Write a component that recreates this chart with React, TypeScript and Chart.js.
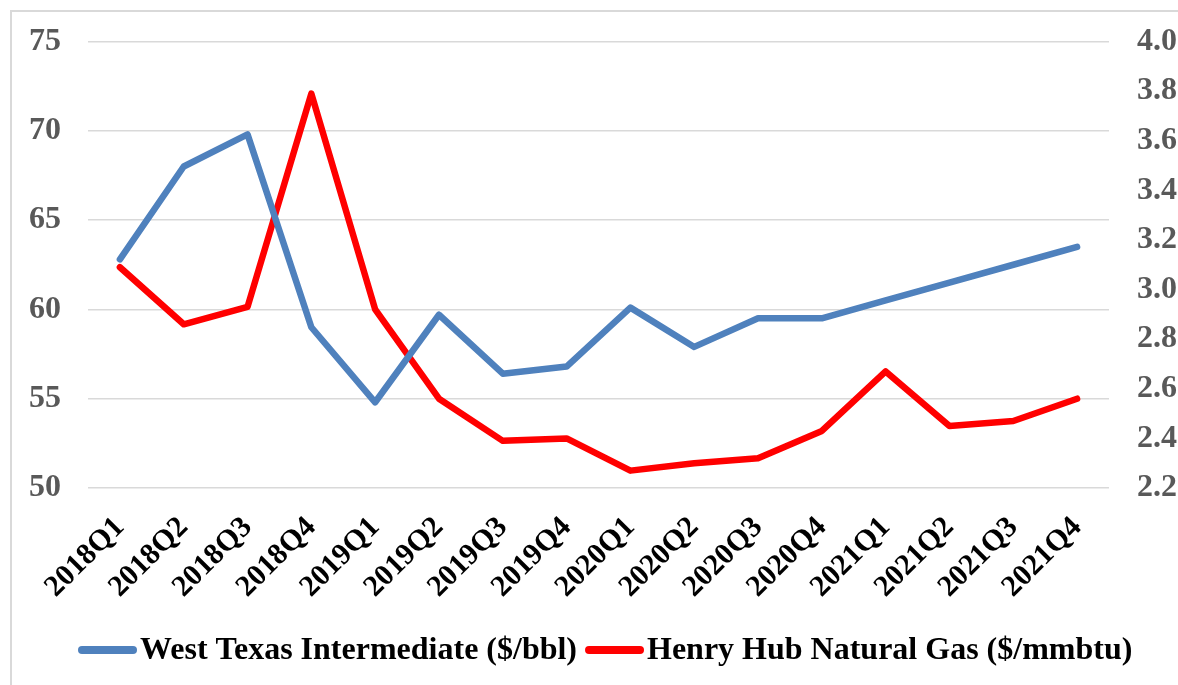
import React, { useEffect, useRef } from "react";
import { Chart, registerables } from "chart.js";

Chart.register(...registerables);

const categories = [
  "2018Q1", "2018Q2", "2018Q3", "2018Q4",
  "2019Q1", "2019Q2", "2019Q3", "2019Q4",
  "2020Q1", "2020Q2", "2020Q3", "2020Q4",
  "2021Q1", "2021Q2", "2021Q3", "2021Q4",
];
const wtiLabel = "West Texas Intermediate ($/bbl)";
const henryLabel = "Henry Hub Natural Gas ($/mmbtu)";
const wti = [62.8, 68.0, 69.8, 59.0, 54.8, 59.7, 56.4, 56.8, 60.1, 57.9, 59.5, 59.5, 60.5, 61.5, 62.5, 63.5];
const henryHub = [3.09, 2.86, 2.93, 3.79, 2.92, 2.56, 2.39, 2.40, 2.27, 2.30, 2.32, 2.43, 2.67, 2.45, 2.47, 2.56];
const leftMin = 50;
const leftMax = 75;
const leftStep = 5;
const rightMin = 2.2;
const rightMax = 4.0;
const rightStep = 0.2;

const FONT = "'Liberation Serif', 'Times New Roman', serif";

const bottomLegend = {
  id: "bottomLegend",
  afterDraw(chart: any) {
    const ctx = chart.ctx;
    const y = 650;
    const sample = 59;
    const lw = 8;
    let x = 78;
    ctx.save();
    ctx.font = `bold 32px ${FONT}`;
    ctx.textBaseline = "middle";
    ctx.textAlign = "left";
    chart.data.datasets.forEach((ds: any) => {
      ctx.strokeStyle = ds.borderColor;
      ctx.lineWidth = lw;
      ctx.lineCap = "round";
      ctx.beginPath();
      ctx.moveTo(x + lw / 2, y);
      ctx.lineTo(x + sample - lw / 2, y);
      ctx.stroke();
      x += sample + 3;
      ctx.fillStyle = "#000000";
      ctx.fillText(ds.label, x, y + 1);
      x += ctx.measureText(ds.label).width + 8;
    });
    ctx.restore();
  },
};

export default function App() {
  const ref = useRef<HTMLCanvasElement | null>(null);

  useEffect(() => {
    document.body.style.margin = "0";
    const canvas = ref.current;
    if (!canvas) return;
    const chart = new Chart(canvas, {
      type: "line",
      data: {
        labels: categories,
        datasets: [
          {
            label: wtiLabel,
            data: wti,
            borderColor: "#4F81BD",
            backgroundColor: "#4F81BD",
            borderWidth: 6.5,
            pointRadius: 0,
            borderJoinStyle: "round",
            borderCapStyle: "round",
            tension: 0,
            yAxisID: "y",
          },
          {
            label: henryLabel,
            data: henryHub,
            borderColor: "#FF0000",
            backgroundColor: "#FF0000",
            borderWidth: 6.5,
            pointRadius: 0,
            borderJoinStyle: "round",
            borderCapStyle: "round",
            tension: 0,
            yAxisID: "y1",
          },
        ],
      },
      plugins: [bottomLegend],
      options: {
        responsive: false,
        animation: false,
        maintainAspectRatio: false,
        layout: { padding: { top: 41.5, left: 0, right: 0, bottom: 60 } },
        plugins: {
          tooltip: { enabled: false },
          legend: { display: false },
        },
        scales: {
          x: {
            type: "category",
            offset: true,
            grid: { display: false, drawTicks: false },
            border: { display: false },
            ticks: {
              autoSkip: false,
              minRotation: 45,
              maxRotation: 45,
              padding: 22,
              color: "#000000",
              font: { family: FONT, size: 30, weight: "bold" },
            },
            afterFit: (s: any) => {
              s.height = 137;
              s.paddingLeft = 0;
              s.paddingRight = 0;
            },
          },
          y: {
            position: "left",
            min: leftMin,
            max: leftMax,
            grid: { color: "#D9D9D9", lineWidth: 1.5, drawTicks: false },
            border: { display: false },
            ticks: {
              stepSize: leftStep,
              padding: 27,
              color: "#595959",
              font: { family: FONT, size: 32, weight: "bold" },
            },
            afterFit: (s: any) => {
              s.width = 88;
              s.paddingTop = 0;
              s.paddingBottom = 0;
            },
          },
          y1: {
            position: "right",
            min: rightMin,
            max: rightMax,
            grid: { display: false, drawTicks: false },
            border: { display: false },
            ticks: {
              stepSize: rightStep,
              padding: 28,
              color: "#595959",
              font: { family: FONT, size: 32, weight: "bold" },
              callback: (v: any) => Number(v).toFixed(1),
            },
            afterFit: (s: any) => {
              s.width = 69;
              s.paddingTop = 0;
              s.paddingBottom = 0;
            },
          },
        },
      },
    });
    return () => chart.destroy();
  }, []);

  return (
    <div style={{ position: "relative", width: 1178, height: 685, overflow: "hidden", background: "#fff" }}>
      <canvas ref={ref} width={1178} height={685} style={{ display: "block" }} />
      <div
        style={{
          position: "absolute",
          left: 10,
          top: 10,
          width: 1200,
          height: 700,
          border: "2px solid #D9D9D9",
          pointerEvents: "none",
        }}
      />
    </div>
  );
}
